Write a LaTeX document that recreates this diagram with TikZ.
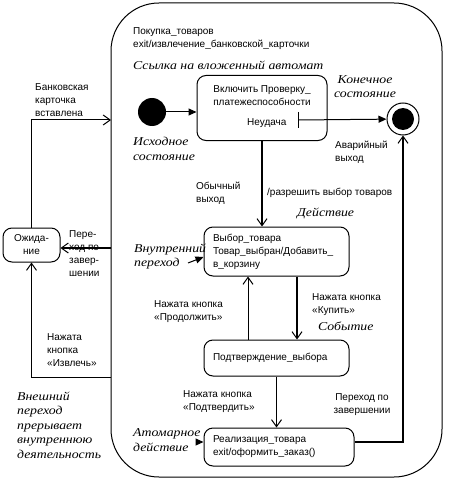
\documentclass[tikz,border=0pt]{standalone}
\usepackage{fontspec}
\setmainfont{Liberation Sans}
\newfontfamily\notefont[FakeStretch=1.15]{Liberation Serif}
\usetikzlibrary{arrows.meta, positioning, calc}

\begin{document}
\begin{tikzpicture}[x=1pt, y=-1pt,
        every node/.style={font=\fontsize{10}{13}\selectfont},
        stbox/.style={draw, line width=1pt, rounded corners=9pt, inner sep=0pt},
        lbl/.style={anchor=base west, align=left, inner sep=0pt},
        note/.style={lbl, font=\notefont\itshape\fontsize{12}{14.5}\selectfont},
        arr/.style={line width=1pt, -{Straight Barb[length=7pt, width=10pt, line width=1pt]}},
        thickarr/.style={arr, line width=2.4pt},
        fillarr/.style={line width=1pt, -{Triangle[length=8pt, width=7pt]}}]
        \useasboundingbox (0,0) rectangle (449,484);
        \node[draw, line width=1pt, rounded corners=48pt, minimum width=331pt, minimum height=474pt] (buy) at (276.5,240) {};
        \node[lbl] (buyTxt) at (133,48) {Покупка\_товаров\\exit/извлечение\_банковской\_карточки};
        \node[note] (refTxt) at (133,70) {Ссылка на вложенный автомат};
        \node[circle, fill, minimum size=28pt, inner sep=0pt] (init) at (152,112) {};
        \node[stbox, minimum width=130pt, minimum height=65pt] (check) at (262,108) {};
        \node[lbl, anchor=base, align=center] (checkTxt) at (262,106) {Включить Проверку\_\\платежеспособности};
        \node[lbl] (failTxt) at (247,125) {Неудача};
        \coordinate (fail) at (298,120);
        \node[circle, draw, line width=1pt, minimum size=32pt, inner sep=0pt] (final) at (403,119) {};
        \node[circle, fill, minimum size=22pt, inner sep=0pt] (finalDot) at (final) {};
        \node[stbox, minimum width=145pt, minimum height=49pt, text width=127pt, inner xsep=9pt, align=left] (choose) at (276.5,251.5) {Выбор\_товара\\Товар\_выбран/Добавить\_\\в\_корзину};
        \node[stbox, minimum width=145pt, minimum height=36pt, text width=127pt, inner xsep=9pt, align=left] (confirm) at (276.5,358) {Подтверждение\_выбора};
        \node[stbox, minimum width=150pt, minimum height=38pt, text width=132pt, inner xsep=9pt, align=left] (realize) at (279,447) {Реализация\_товара\\exit/оформить\_заказ()};
        \node[stbox, minimum width=57pt, minimum height=34pt, align=center] (wait) at (31.5,245) {Ожида-\\ние};
        \coordinate (cardIn) at (111,120);
        \coordinate (doneOut) at (111,248);
        \coordinate (ejectOut) at (111,377);
        \coordinate (innerT) at (188,263);
        \coordinate (atomT) at (197,442);
        \node[note] (initTxt) at (133,160.5) {Исходное\\состояние};
        \node[note, anchor=base, align=center] (finalTxt) at (365,98) {Конечное\\состояние};
        \node[lbl] (abortTxt) at (335,161) {Аварийный\\выход};
        \node[lbl] (cardTxt) at (35,117) {Банковская\\карточка\\вставлена};
        \node[lbl] (doneTxt) at (69,276) {Пере-\\ход по\\завер-\\шении};
        \node[lbl] (normTxt) at (196,202) {Обычный\\выход};
        \node[lbl] (allowTxt) at (267,195) {/разрешить выбор товаров};
        \node[note] (actTxt) at (297,216) {Действие};
        \node[note] (innerTxt) at (134,266.5) {Внутренний\\переход};
        \node[lbl] (contTxt) at (154,320) {Нажата кнопка\\«Продолжить»};
        \node[lbl] (buyBtnTxt) at (312,313) {Нажата кнопка\\«Купить»};
        \node[note] (eventTxt) at (318,330) {Событие};
        \node[lbl] (ejectTxt) at (47,366) {Нажата\\кнопка\\«Извлечь»};
        \node[note] (extTxt) at (17,458) {Внешний\\переход\\прерывает\\внутреннюю\\деятельность};
        \node[lbl] (okTxt) at (183,410) {Нажата кнопка\\«Подтвердить»};
        \node[lbl, anchor=base, align=center] (complTxt) at (362,413) {Переход по\\завершении};
        \node[note] (atomTxt) at (133,451) {Атомарное\\действие};
        \draw[fillarr] (init) -- (init -| check.west);
        \draw[line width=1pt] ([yshift=8pt]fail) -- ([yshift=-8pt]fail);
        \draw[fillarr] (fail) -- (final);
        \draw[thickarr] (check.south) -- (check.south |- choose.north);
        \draw[thickarr] ([xshift=20.5pt]choose.south) -- ([xshift=20.5pt]choose.south |- confirm.north);
        \draw[arr] ([xshift=-28.5pt]confirm.north) -- ([xshift=-28.5pt]confirm.north |- choose.south);
        \draw[arr] (confirm.south) -- (confirm.south |- realize.north);
        \draw[thickarr] ([yshift=5pt]realize.east) -| (final.south);
        \draw[fillarr] (innerT) -- ([yshift=-5.5pt]choose.west);
        \draw[fillarr] (atomT) -- (atomT -| realize.west);
        \draw[thickarr] (doneOut) -- (doneOut -| wait.east);
        \draw[arr] (wait.north) |- (cardIn);
        \draw[arr] (ejectOut) -| (wait.south);
\end{tikzpicture}
\end{document}
